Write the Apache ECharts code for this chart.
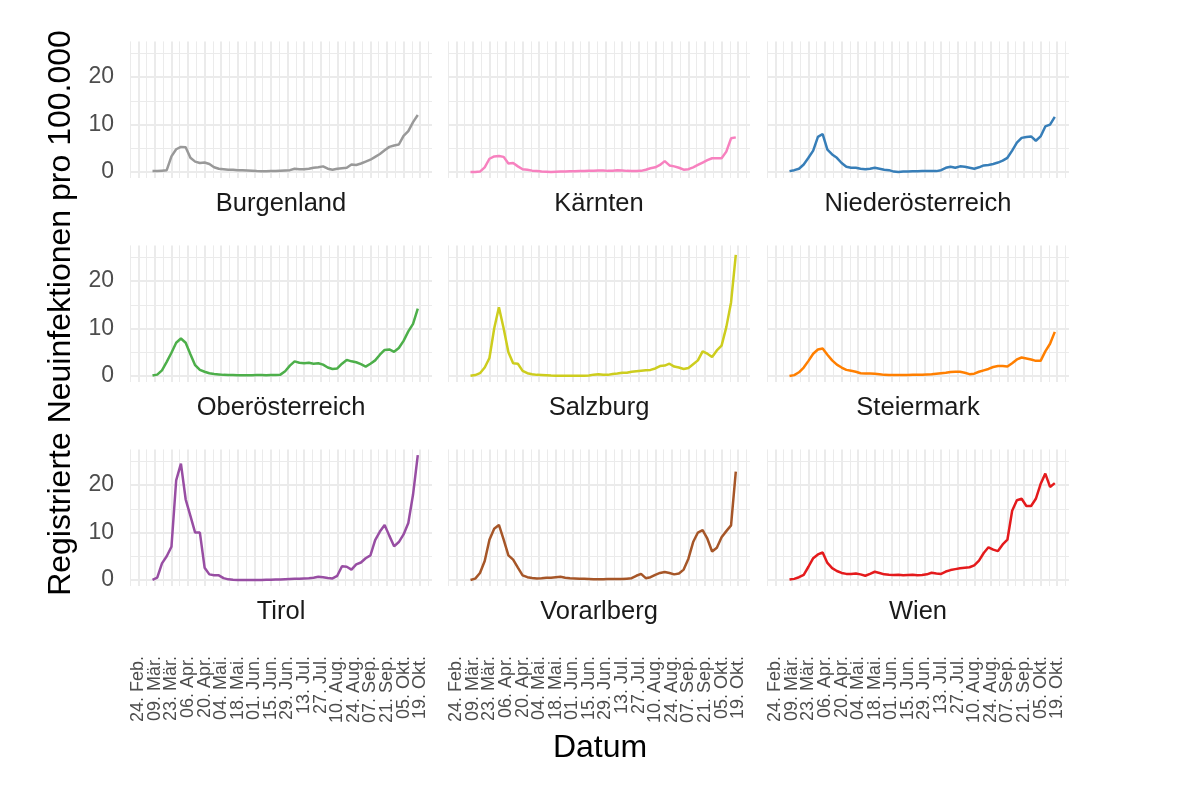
<!DOCTYPE html>
<html>
<head>
<meta charset="utf-8">
<title>Registrierte Neuinfektionen pro 100.000</title>
<script src="https://cdn.jsdelivr.net/npm/echarts@6/dist/echarts.min.js"></script>
<style>
  html, body { margin: 0; padding: 0; background: #fff; }
  #chart { width: 1200px; height: 809px; }
</style>
</head>
<body>
<div id="chart"></div>
<script>
// Tage seit 24. Feb. 2020 (Stichproben der Kurven)
const days = [
  12, 16, 20, 24, 28, 32, 36, 40, 44, 48,
  52, 56, 60, 64, 68, 72, 76, 80, 84, 88,
  92, 96, 100, 104, 108, 112, 116, 120, 124, 128,
  132, 136, 140, 144, 148, 152, 156, 160, 164, 168,
  172, 176, 180, 184, 188, 192, 196, 200, 204, 208,
  212, 216, 220, 224, 228, 232, 236
];

// Beschriftung alle 14 Tage ab 24. Feb.
const dateLabels = [
  '24. Feb.', '09. Mär.', '23. Mär.', '06. Apr.', '20. Apr.', '04. Mai.',
  '18. Mai.', '01. Jun.', '15. Jun.', '29. Jun.', '13. Jul.', '27. Jul.',
  '10. Aug.', '24. Aug.', '07. Sep.', '21. Sep.', '05. Okt.', '19. Okt.'
];

const yTicks = [0, 10, 20];

const burgenland = [
  0.2, 0.2, 0.3, 0.4, 3.3, 4.8, 5.3, 5.2, 3.0, 2.2,
  1.9, 2.0, 1.7, 1.0, 0.7, 0.6, 0.5, 0.5, 0.4, 0.4,
  0.35, 0.3, 0.2, 0.15, 0.15, 0.2, 0.2, 0.3, 0.35, 0.4,
  0.7, 0.6, 0.6, 0.7, 0.9, 1.0, 1.2, 0.7, 0.5, 0.7,
  0.8, 0.9, 1.6, 1.5, 1.8, 2.2, 2.6, 3.2, 3.8, 4.6,
  5.3, 5.6, 5.8, 7.6, 8.6, 10.5, 12.0
];
const kaernten = [
  0.0, 0.0, 0.1, 1.0, 2.8, 3.3, 3.4, 3.2, 1.8, 1.9,
  1.2, 0.6, 0.5, 0.3, 0.2, 0.1, 0.05, 0.0, 0.05, 0.1,
  0.1, 0.15, 0.15, 0.2, 0.2, 0.25, 0.3, 0.35, 0.35, 0.25,
  0.3, 0.4, 0.35, 0.25, 0.2, 0.2, 0.25, 0.5, 0.8, 1.0,
  1.5, 2.3, 1.4, 1.2, 0.9, 0.5, 0.6, 1.0, 1.5, 2.0,
  2.5, 2.9, 2.9, 2.9, 4.3, 7.1, 7.3
];
const niederoesterreich = [
  0.2, 0.4, 0.7, 1.6, 3.0, 4.5, 7.4, 8.0, 4.7, 3.7,
  3.0, 1.9, 1.1, 0.9, 0.9, 0.7, 0.6, 0.7, 0.9, 0.7,
  0.5, 0.4, 0.1, 0.0, 0.1, 0.1, 0.15, 0.15, 0.2, 0.2,
  0.2, 0.2, 0.4, 0.9, 1.1, 0.9, 1.2, 1.1, 0.9, 0.7,
  1.0, 1.4, 1.5, 1.7, 2.0, 2.4, 3.0, 4.5, 6.2, 7.2,
  7.4, 7.5, 6.6, 7.5, 9.6, 10.0, 11.6
];
const oberoesterreich = [
  0.1, 0.3, 1.2, 3.0, 4.9, 7.0, 7.9, 7.0, 4.6, 2.3,
  1.3, 0.9, 0.6, 0.45, 0.35, 0.25, 0.2, 0.2, 0.15, 0.15,
  0.15, 0.15, 0.2, 0.2, 0.15, 0.2, 0.2, 0.3, 1.0, 2.2,
  3.1, 2.8, 2.7, 2.8, 2.6, 2.7, 2.4, 1.8, 1.5, 1.6,
  2.6, 3.4, 3.1, 2.9, 2.5, 2.0, 2.6, 3.3, 4.5, 5.5,
  5.6, 5.1, 5.9, 7.4, 9.4, 11.0, 14.2
];
const salzburg = [
  0.05, 0.2, 0.6, 1.8, 3.8, 10.0, 14.5, 10.0, 5.0, 2.7,
  2.6, 1.1, 0.6, 0.4, 0.25, 0.2, 0.15, 0.1, 0.07, 0.07,
  0.07, 0.07, 0.07, 0.07, 0.07, 0.1, 0.3, 0.4, 0.3, 0.25,
  0.45, 0.55, 0.7, 0.7, 0.9, 1.0, 1.1, 1.2, 1.3, 1.6,
  2.1, 2.2, 2.6, 2.0, 1.8, 1.5, 1.7, 2.5, 3.3, 5.2,
  4.7, 4.0, 5.4, 6.4, 10.3, 15.5, 25.5
];
const steiermark = [
  0.0, 0.2, 0.8, 1.8, 3.2, 4.7, 5.6, 5.8, 4.5, 3.3,
  2.4, 1.8, 1.3, 1.1, 0.9, 0.6, 0.55, 0.55, 0.5, 0.4,
  0.25, 0.2, 0.2, 0.2, 0.2, 0.2, 0.25, 0.3, 0.3, 0.35,
  0.4, 0.5, 0.6, 0.7, 0.85, 0.9, 0.9, 0.7, 0.4, 0.5,
  0.9, 1.2, 1.5, 1.9, 2.1, 2.1, 2.0, 2.7, 3.5, 3.9,
  3.7, 3.5, 3.2, 3.2, 5.2, 6.8, 9.3
];
const tirol = [
  0.05, 0.5, 3.5, 5.0, 7.0, 21.0, 24.5, 17.0, 13.5, 10.0,
  10.0, 2.6, 1.2, 1.0, 1.0, 0.4, 0.15, 0.05, 0.0, 0.0,
  0.0, 0.0, 0.0, 0.0, 0.05, 0.05, 0.1, 0.1, 0.15, 0.2,
  0.25, 0.3, 0.35, 0.4, 0.5, 0.7, 0.6, 0.45, 0.35, 0.9,
  2.9, 2.8, 2.2, 3.3, 3.7, 4.6, 5.2, 8.4, 10.2, 11.6,
  9.3, 7.1, 8.0, 9.6, 12.0, 18.0, 26.3
];
const vorarlberg = [
  0.0, 0.3, 1.5, 4.0, 8.5, 10.8, 11.6, 8.5, 5.2, 4.3,
  2.6, 1.0, 0.6, 0.45, 0.35, 0.4, 0.5, 0.5, 0.6, 0.7,
  0.5, 0.4, 0.35, 0.3, 0.25, 0.2, 0.15, 0.15, 0.15, 0.2,
  0.2, 0.2, 0.2, 0.3, 0.4, 0.9, 1.3, 0.4, 0.6, 1.1,
  1.5, 1.7, 1.5, 1.2, 1.4, 2.2, 4.5, 8.0, 10.0, 10.5,
  8.7, 6.0, 6.8, 9.0, 10.3, 11.5, 22.8
];
const wien = [
  0.1, 0.25, 0.6, 1.1, 2.8, 4.6, 5.4, 5.8, 3.6, 2.5,
  1.9, 1.5, 1.3, 1.3, 1.4, 1.2, 0.9, 1.3, 1.75, 1.5,
  1.2, 1.1, 1.05, 1.1, 1.0, 1.05, 1.1, 1.0, 1.05, 1.2,
  1.55, 1.4, 1.3, 1.8, 2.1, 2.3, 2.5, 2.6, 2.7, 3.1,
  4.1, 5.7, 6.9, 6.4, 6.1, 7.5, 8.5, 14.6, 16.8, 17.1,
  15.6, 15.6, 17.1, 20.2, 22.4, 19.6, 20.4
];

const panels = [
  { name: 'Burgenland', color: '#999999', values: burgenland },
  { name: 'Kärnten', color: '#F781BF', values: kaernten },
  { name: 'Niederösterreich', color: '#377EB8', values: niederoesterreich },
  { name: 'Oberösterreich', color: '#4DAF4A', values: oberoesterreich },
  { name: 'Salzburg', color: '#CDCD1E', values: salzburg },
  { name: 'Steiermark', color: '#FF7F00', values: steiermark },
  { name: 'Tirol', color: '#984EA3', values: tirol },
  { name: 'Vorarlberg', color: '#A65628', values: vorarlberg },
  { name: 'Wien', color: '#E41A1C', values: wien },
];

const FONT = '"Liberation Sans", Arial, Helvetica, sans-serif';
const GRID = '#ebebeb';
const NONE = 'rgba(0,0,0,0)';
const COL_LEFT = [130, 448, 767];
const ROW_TOP = [41.4, 245.4, 449.4];
const PANEL_W = 302;
const PANEL_H = 136.6;

// y ticks run every 1.25 from -1.25; colour arrays pick the 0/10/20 and 5/15/25 lines
const yMajorColors = [NONE, GRID, NONE, NONE, NONE, NONE, NONE, NONE];
const yMinorColors = [NONE, NONE, NONE, NONE, NONE, GRID, NONE, NONE];

const chart = echarts.init(document.getElementById('chart'));

const grids = [];
const xAxes = [];
const yAxes = [];
const series = [];
const graphics = [];

panels.forEach((panel, i) => {
  const col = i % 3;
  const row = Math.floor(i / 3);

  grids.push({ left: COL_LEFT[col], top: ROW_TOP[row], width: PANEL_W, height: PANEL_H });

  const xBase = {
    type: 'value', gridIndex: i, min: -7, max: 248, interval: 7,
    axisLine: { show: false }, axisTick: { show: false },
  };
  xAxes.push({
    ...xBase,
    axisLabel: {
      show: row === 2, rotate: 90, margin: 70, fontSize: 18, color: '#4d4d4d', fontFamily: FONT,
      hideOverlap: false,
      formatter: (v) => (v >= 0 && v % 14 === 0 ? (dateLabels[v / 14] || '') : ''),
    },
    splitLine: { show: true, showMaxLine: false, lineStyle: { color: [GRID, NONE], width: 1 } },
  });
  xAxes.push({
    ...xBase,
    axisLabel: { show: false },
    splitLine: { show: true, showMaxLine: false, lineStyle: { color: [NONE, GRID], width: 2 } },
  });

  const yBase = {
    type: 'value', gridIndex: i, min: -1.25, max: 27.5, interval: 1.25,
    axisLine: { show: false }, axisTick: { show: false },
  };
  yAxes.push({
    ...yBase,
    axisLabel: {
      show: col === 0, margin: 16, fontSize: 23, color: '#4d4d4d', fontFamily: FONT,
      formatter: (v) => {
        const r = Math.round(v);
        return Math.abs(v - r) < 1e-6 && yTicks.includes(r) ? String(r) : '';
      },
    },
    splitLine: { show: true, lineStyle: { color: yMajorColors, width: 2 } },
  });
  yAxes.push({
    ...yBase,
    axisLabel: { show: false },
    splitLine: { show: true, lineStyle: { color: yMinorColors, width: 1 } },
  });

  series.push({
    type: 'line',
    name: panel.name,
    xAxisIndex: 2 * i,
    yAxisIndex: 2 * i,
    data: days.map((d, j) => [d, panel.values[j]]),
    showSymbol: false,
    symbol: 'none',
    silent: true,
    lineStyle: { color: panel.color, width: 2.5 },
    itemStyle: { color: panel.color },
  });

  graphics.push({
    type: 'text',
    x: COL_LEFT[col] + PANEL_W / 2,
    y: 204 + 204 * row,
    style: {
      text: panel.name, fill: '#1a1a1a', font: `25.5px ${FONT}`,
      align: 'center', verticalAlign: 'middle', textAlign: 'center', textVerticalAlign: 'middle',
    },
  });
});

graphics.push({
  type: 'text', x: 600, y: 748,
  style: {
    text: 'Datum', fill: '#000', font: `32px ${FONT}`,
    align: 'center', verticalAlign: 'middle', textAlign: 'center', textVerticalAlign: 'middle',
  },
});
graphics.push({
  type: 'text', x: 61, y: 313, rotation: Math.PI / 2,
  style: {
    text: 'Registrierte Neuinfektionen pro 100.000', fill: '#000', font: `32px ${FONT}`,
    align: 'center', verticalAlign: 'middle', textAlign: 'center', textVerticalAlign: 'middle',
  },
});

chart.setOption({
  backgroundColor: '#fff',
  animation: false,
  grid: grids,
  xAxis: xAxes,
  yAxis: yAxes,
  series,
  graphic: graphics,
});
</script>
</body>
</html>
